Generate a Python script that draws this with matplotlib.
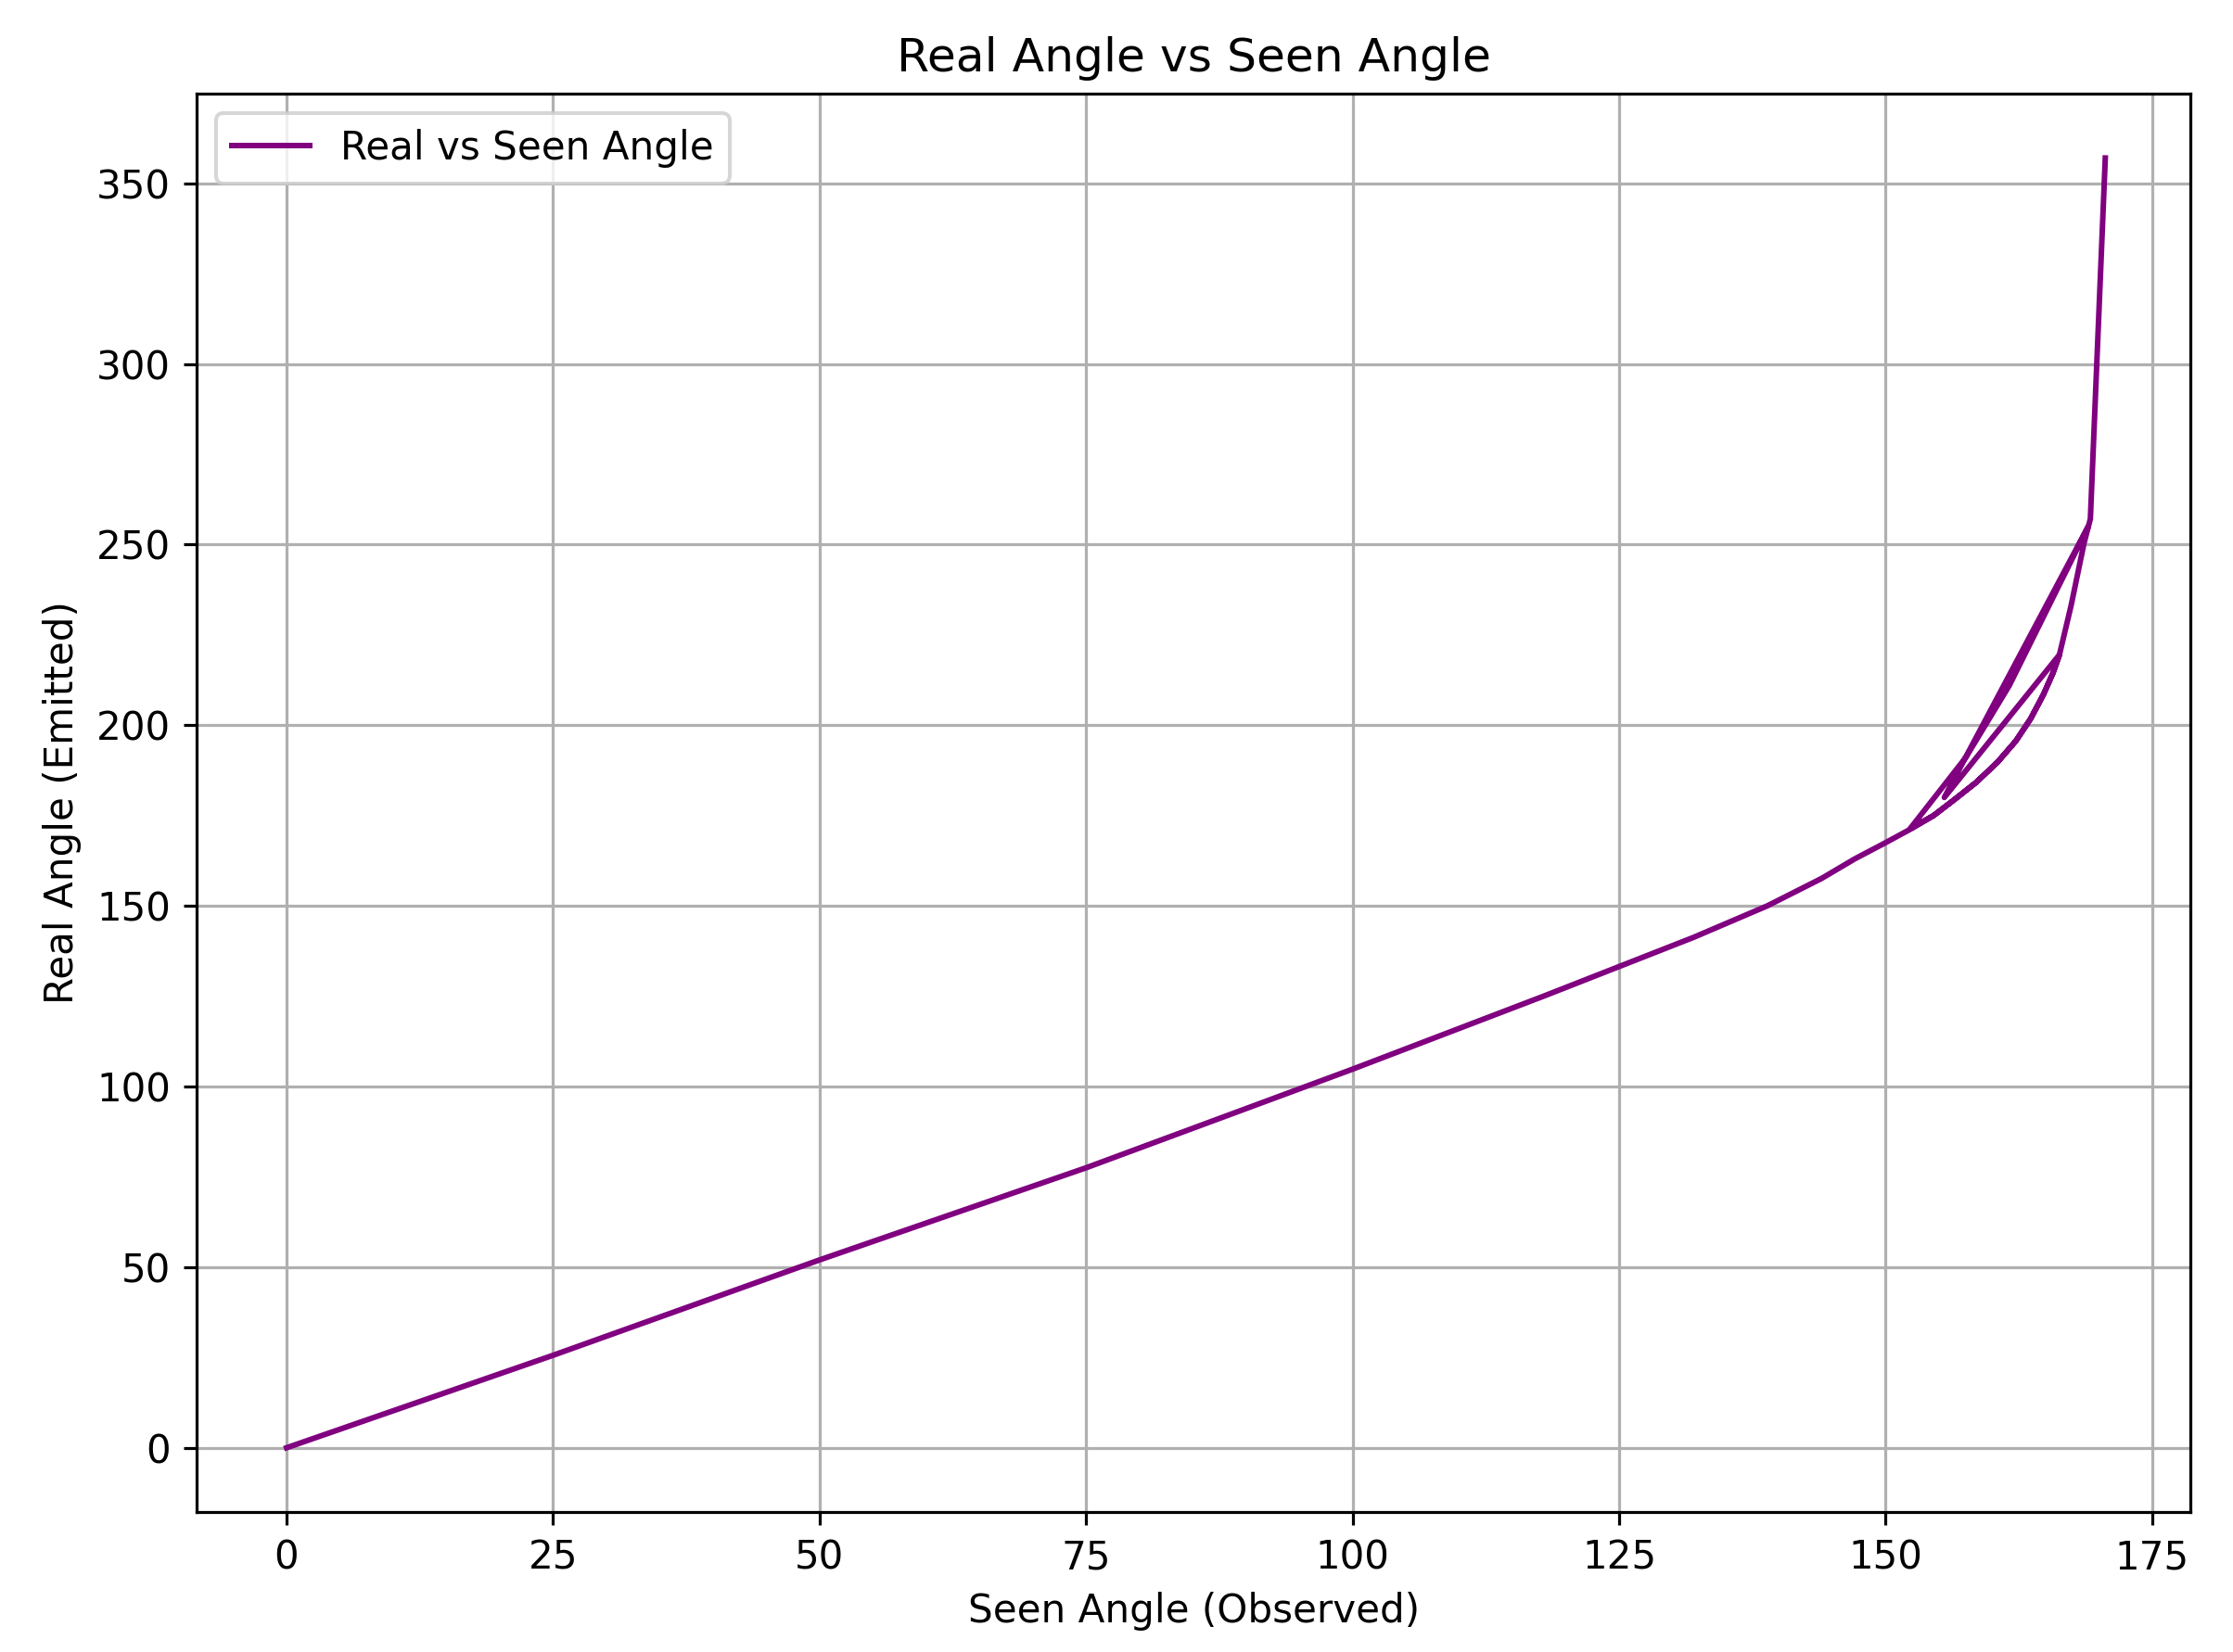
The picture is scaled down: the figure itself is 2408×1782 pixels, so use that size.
import matplotlib
matplotlib.use("Agg")
import matplotlib.pyplot as plt

# Seen angle (observed) and real angle (emitted), in drawing order
seen_angle = [0, 25, 50, 75, 100, 118, 125, 132, 138.9, 144.0, 147.1, 150.0, 152.5,
              154.5, 156.4, 158.5, 160.5, 162.2, 163.6, 164.8, 165.7, 166.3,
              155.5,
              169.0,
              161.6, 157.5, 152.3,
              154.5, 156.4, 158.5, 160.5, 162.2, 163.6, 164.8, 165.7, 166.3,
              167.4, 168.6, 169.2,
              170.6]
real_angle = [0, 25.6, 52.0, 77.5, 104.8, 125.1, 133.2, 141.3, 150.0, 157.6, 163.0, 167.5, 171.5,
              175.0, 179.3, 184.2, 189.8, 195.6, 201.8, 208.5, 214.5, 219.5,
              180.0,
              255.0,
              211.0, 191.0, 171.4,
              175.0, 179.3, 184.2, 189.8, 195.6, 201.8, 208.5, 214.5, 219.5,
              233.2, 250.3, 257.1,
              357.0]

title = "Real Angle vs Seen Angle"
xlabel = "Seen Angle (Observed)"
ylabel = "Real Angle (Emitted)"
legend_label = "Real vs Seen Angle"

plt.rcParams["font.size"] = 10.5
dpi = 288
fig = plt.figure(figsize=(2408 / dpi, 1782 / dpi), dpi=dpi)
ax = fig.add_axes([0.088, 0.0847, 0.981 - 0.088, 0.9433 - 0.0847])

ax.plot(seen_angle, real_angle, color="purple", linewidth=1.5, label=legend_label)
ax.set_title(title, fontsize=12.6)
ax.set_xlabel(xlabel)
ax.set_ylabel(ylabel)
ax.grid(True)
ax.legend(loc="upper left")
ax.set_xticks([0, 25, 50, 75, 100, 125, 150, 175])
ax.set_yticks([0, 50, 100, 150, 200, 250, 300, 350])
ax.set_xlim(-8.45, 178.6)
ax.set_ylim(-17.8, 374.8)

fig.savefig("out.png", dpi=dpi)
